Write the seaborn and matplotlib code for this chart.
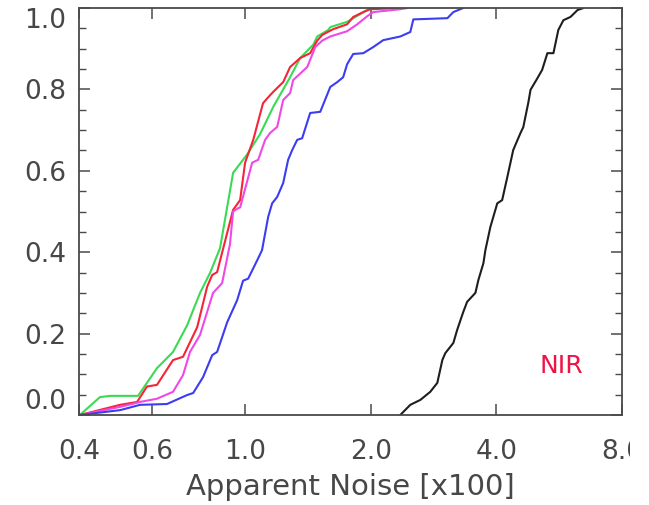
import numpy as np
import pandas as pd
import matplotlib
matplotlib.use("Agg")
import matplotlib.pyplot as plt
import seaborn as sns
from matplotlib.ticker import FixedLocator, NullLocator, MultipleLocator
from matplotlib.patches import Rectangle

# ---------------- data ----------------
green_x = [0.402, 0.449, 0.475, 0.554, 0.615, 0.672, 0.726, 0.780, 0.825, 0.871,
           0.936, 1.011, 1.086, 1.168, 1.282, 1.355, 1.457, 1.489, 1.582, 1.600,
           1.756, 1.888, 1.995]
green_y = [0.0, 0.044, 0.047, 0.047, 0.115, 0.155, 0.22, 0.30, 0.35, 0.41,
           0.595, 0.64, 0.69, 0.757, 0.83, 0.877, 0.91, 0.93, 0.946, 0.953,
           0.966, 0.985, 1.0]

red_x = [0.402, 0.502, 0.551, 0.582, 0.615, 0.672, 0.710, 0.768, 0.811, 0.834,
         0.857, 0.936, 0.973, 1.0, 1.046, 1.104, 1.130, 1.168, 1.234, 1.282,
         1.355, 1.432, 1.489, 1.531, 1.626, 1.756, 1.816, 1.920, 1.995, 2.35]
red_y = [0.0, 0.025, 0.032, 0.07, 0.074, 0.135, 0.143, 0.216, 0.315, 0.344,
         0.351, 0.504, 0.528, 0.62, 0.676, 0.766, 0.778, 0.794, 0.818, 0.855,
         0.877, 0.889, 0.92, 0.934, 0.948, 0.96, 0.978, 0.99, 0.997, 1.0]

magenta_x = [0.402, 0.502, 0.560, 0.615, 0.672, 0.710, 0.738, 0.780, 0.838, 0.881,
             0.920, 0.936, 0.962, 0.973, 1.04, 1.075, 1.117, 1.148, 1.194, 1.234,
             1.282, 1.304, 1.409, 1.473, 1.531, 1.600, 1.756, 1.857, 1.963, 2.028,
             2.354, 2.45]
magenta_y = [0.0, 0.02, 0.032, 0.04, 0.057, 0.098, 0.155, 0.197, 0.30, 0.324,
             0.42, 0.50, 0.508, 0.51, 0.62, 0.627, 0.676, 0.693, 0.708, 0.774,
             0.791, 0.823, 0.855, 0.904, 0.92, 0.93, 0.943, 0.96, 0.98, 0.99,
             0.997, 1.0]

blue_x = [0.402, 0.502, 0.560, 0.650, 0.726, 0.751, 0.793, 0.834, 0.857, 0.906,
          0.957, 0.989, 1.017, 1.069, 1.098, 1.136, 1.161, 1.194, 1.234, 1.268,
          1.297, 1.333, 1.370, 1.432, 1.514, 1.600, 1.663, 1.718, 1.756, 1.816,
          1.920, 2.028, 2.143, 2.354, 2.488, 2.530, 3.054, 3.155, 3.332]
blue_y = [0.0, 0.012, 0.025, 0.027, 0.049, 0.054, 0.093, 0.147, 0.155, 0.228,
          0.282, 0.33, 0.335, 0.38, 0.405, 0.487, 0.52, 0.536, 0.57, 0.627,
          0.651, 0.676, 0.68, 0.742, 0.745, 0.806, 0.818, 0.83, 0.862, 0.887,
          0.889, 0.904, 0.921, 0.930, 0.941, 0.972, 0.975, 0.99, 1.0]

black_x = [2.354, 2.488, 2.629, 2.778, 2.888, 2.969, 3.018, 3.155, 3.222, 3.332,
           3.404, 3.563, 3.623, 3.724, 3.765, 3.870, 4.02, 4.13, 4.25, 4.39,
           4.57, 4.64, 4.77, 4.83, 5.02, 5.15, 5.30, 5.48, 5.63, 5.79,
           6.02, 6.26, 6.47]
black_y = [0.0, 0.025, 0.037, 0.057, 0.079, 0.135, 0.152, 0.177, 0.209, 0.253,
           0.278, 0.30, 0.332, 0.373, 0.405, 0.462, 0.52, 0.528, 0.585, 0.651,
           0.693, 0.707, 0.767, 0.799, 0.828, 0.848, 0.889, 0.889, 0.946, 0.97,
           0.978, 0.995, 1.0]

x_ticks = [0.4, 0.6, 1.0, 2.0, 4.0, 8.0]
x_tick_labels = ["0.4", "0.6", "1.0", "2.0", "4.0", "8.0"]
y_ticks = [0.0, 0.2, 0.4, 0.6, 0.8, 1.0]
y_tick_labels = ["0.0", "0.2", "0.4", "0.6", "0.8", "1.0"]
x_label = "Apparent Noise [x100]"
annotation = "NIR"

series = [
    (green_x, green_y, "#3ada55"),
    (red_x, red_y, "#f52436"),
    (magenta_x, magenta_y, "#f048e6"),
    (blue_x, blue_y, "#3c3cf0"),
    (black_x, black_y, "#1e1e1e"),
]

# ---------------- style ----------------
sns.set_theme(style="ticks")
plt.rcParams["font.family"] = ["DejaVu Sans"]
TXT = "#474747"
AX = "#4a4a4a"

fig = plt.figure(figsize=(6.49, 5.05), dpi=100)
fig.patch.set_facecolor("white")
ax = fig.add_axes([79 / 649, (505 - 415) / 505, (622 - 79) / 649, (415 - 8) / 505])
ax.set_facecolor("white")

for xs, ys, col in series:
    df = pd.DataFrame({"x": xs, "y": ys})
    sns.lineplot(data=df, x="x", y="y", color=col, linewidth=1.5,
                 estimator=None, sort=False, ax=ax)

ax.set_xscale("log")
ax.set_xlim(0.4, 8.0)
ax.set_ylim(0.0, 1.0)

ax.xaxis.set_major_locator(FixedLocator(x_ticks))
ax.xaxis.set_minor_locator(NullLocator())
ax.set_xticks(x_ticks)
ax.set_xticklabels(x_tick_labels)
ax.set_yticks(y_ticks)
ax.set_yticklabels(y_tick_labels)
ax.yaxis.set_minor_locator(MultipleLocator(0.05))

for sp in ax.spines.values():
    sp.set_visible(True)
    sp.set_color(AX)
    sp.set_linewidth(1.3)

ax.tick_params(axis="both", which="major", direction="in", length=8, width=1.1,
               color=AX, labelcolor=TXT, labelsize=19, top=True, right=True)
ax.tick_params(axis="y", which="minor", direction="in", length=5, width=1.0,
               color=AX, left=True, right=True)
ax.tick_params(axis="x", which="major", pad=17)
ax.tick_params(axis="y", which="major", pad=9)

ax.set_xlabel(x_label, fontsize=21, color=TXT, labelpad=6)
ax.set_ylabel("")

# IDL-style: end labels pulled inside the axis range
ylabels = ax.get_yticklabels()
ylabels[0].set_va("bottom")
ylabels[-1].set_va("top")

# the reference image is cut off on the right (through the "8.0" label)
clip = Rectangle((0, 0), 630 / 649, 1, transform=fig.transFigure)
for lbl in ax.get_xticklabels():
    lbl.set_clip_on(True)
    lbl.set_clip_path(clip)

ax.text(5.73, 0.12, annotation, color="#ee1248", fontsize=18,
        ha="center", va="center")

fig.savefig("out.png", dpi=100, facecolor="white")
